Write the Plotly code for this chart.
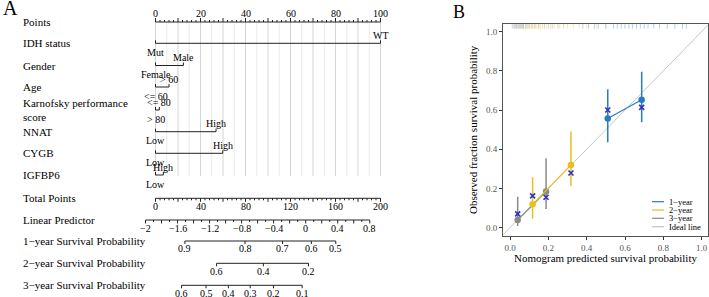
import math
import plotly.graph_objects as go

FONT = "Liberation Serif"
W, H = 709, 297

# ---------------- Panel A : nomogram data ----------------
var_names = ["IDH status", "Gender", "Age", "Karnofsky performance", "NNAT", "CYGB", "IGFBP6"]
var_low_labels = ["Mut", "Female", "<= 60", "> 80", "Low", "Low", "Low"]
var_high_labels = ["WT", "Male", "> 60", "<= 80", "High", "High", "High"]
var_low_points = [0, 0, 0, 0, 0, 0, 0]
var_high_points = [100, 12.4, 6.0, 1.7, 26.9, 29.9, 3.5]

points_labels = [0, 20, 40, 60, 80, 100]
total_points_labels = [0, 40, 80, 120, 160, 200]
lp_labels = [-2, -1.6, -1.2, -0.8, -0.4, 0, 0.4, 0.8]
surv_labels = [
    [0.9, 0.8, 0.7, 0.6, 0.5],
    [0.6, 0.4, 0.2],
    [0.6, 0.5, 0.4, 0.3, 0.2, 0.1],
]
surv_names = ["1\u2212year Survival Probability", "2\u2212year Survival Probability",
              "3\u2212year Survival Probability"]

# model parameters
total_per_point = 2.0          # total-points units per variable point
lp_at_zero_total = 133.5       # total points at linear predictor 0
lp_total_slope = 71.2          # total points per unit of linear predictor
base_cumhaz = [0.476, 1.554, 2.406]   # baseline cumulative hazard at 1, 2, 3 years

# ---------------- Panel B : calibration data ----------------
cal_pred = [[0.510, 0.687], [0.118, 0.318], [0.040, 0.188]]
cal_obs = [[0.557, 0.653], [0.119, 0.320], [0.039, 0.184]]
cal_lo = [[0.436, 0.538], [0.045, 0.213], [0.009, 0.095]]
cal_hi = [[0.706, 0.796], [0.257, 0.490], [0.158, 0.354]]
cal_corr = [[0.600, 0.614], [0.162, 0.279], [0.070, 0.155]]
cal_names = ["1\u2212year", "2\u2212year", "3\u2212year"]
rug_1y = [0.38, 0.41, 0.44, 0.46, 0.50, 0.54, 0.56, 0.58, 0.60, 0.62, 0.64, 0.66,
          0.68, 0.70, 0.72, 0.75, 0.78, 0.82, 0.86, 0.90, 0.92]
rug_2y = [0.07, 0.085, 0.10, 0.11, 0.12, 0.13, 0.14, 0.15, 0.16, 0.17, 0.19, 0.21,
          0.23, 0.26, 0.30, 0.33, 0.36, 0.40, 0.45, 0.50]
rug_3y = [0.012, 0.02, 0.025, 0.03, 0.034, 0.04, 0.045, 0.05, 0.055, 0.06, 0.065,
          0.07, 0.08, 0.09, 0.10, 0.115, 0.13, 0.15, 0.18, 0.20, 0.22, 0.25, 0.28]
rugs = [rug_1y, rug_2y, rug_3y]

# ---------------- styles / layout positions ----------------
cal_colors = ["#2b7bbf", "#e8c01c", "#8a8a8a"]
rug_colors = ["rgba(43,123,191,0.35)", "rgba(232,192,28,0.35)", "rgba(138,138,138,0.35)"]
corr_color = "#3030c8"
ideal_color = "#c4c4c4"
axis_col = "#222222"

row_points_y = 22
row_var_y = [43.3, 65.5, 87, 110, 131.7, 153.3, 175]
row_total_y = 198.3
row_lp_y = 220
row_surv_y = [241, 263.3, 285.3]
grid_bottom_y = 176
label_px = 21

# panel A x axis: pixel = 155.5 + 1.125 * total_points
A_X0, A_SCALE = 155.5, 1.125
A_RIGHT_PX = 430
a_range = [(0 - A_X0) / A_SCALE, (A_RIGHT_PX - A_X0) / A_SCALE]


def lp_to_total(lp):
    return lp_at_zero_total + lp_total_slope * lp


def surv_to_lp(s, h):
    return math.log(-math.log(s) / base_cumhaz[h])


def fmt(v):
    s = ("%g" % v)
    return s.replace("-", "\u2212")


fig = go.Figure()
ann = []
shapes = []

seg_x, seg_y = [], []


def seg(x0, y0, x1, y1, xs=seg_x, ys=seg_y):
    xs += [x0, x1, None]
    ys += [y0, y1, None]


def label(x, y, text, size=10, xanchor="center", color="black"):
    ann.append(dict(x=x, y=y, xref="x", yref="y", text=text, showarrow=False,
                    xanchor=xanchor, yanchor="middle",
                    font=dict(family=FONT, size=size, color=color)))


def row_name(y, text, size=11):
    ann.append(dict(x=label_px / W, y=1 - y / H, xref="paper", yref="paper", text=text,
                    showarrow=False, xanchor="left", yanchor="middle",
                    font=dict(family=FONT, size=size, color="black")))


# grid lines (every 5 points)
gx_dark, gy_dark, gx_light, gy_light = [], [], [], []
for p in range(0, 101, 5):
    t = p * total_per_point
    if p % 10 == 0:
        seg(t, row_points_y, t, grid_bottom_y, gx_dark, gy_dark)
    else:
        seg(t, row_points_y, t, grid_bottom_y, gx_light, gy_light)
fig.add_trace(go.Scatter(x=gx_light, y=gy_light, mode="lines", line=dict(color="#ebebeb", width=1),
                         hoverinfo="skip", showlegend=False))
fig.add_trace(go.Scatter(x=gx_dark, y=gy_dark, mode="lines", line=dict(color="#d4d4d4", width=1),
                         hoverinfo="skip", showlegend=False))

# Points axis (ticks up, labels above)
row_name(row_points_y, "Points")
seg(0, row_points_y, 100 * total_per_point, row_points_y)
for p in range(0, 101, 2):
    t = p * total_per_point
    L = 4 if p % 10 == 0 else 2
    seg(t, row_points_y, t, row_points_y - L)
for p in points_labels:
    label(p * total_per_point, row_points_y - 8.5, fmt(p), size=10)

# variables
for i, name in enumerate(var_names):
    y = row_var_y[i]
    lo, hi = var_low_points[i], var_high_points[i]
    seg(lo * total_per_point, y, hi * total_per_point, y)
    for p in (lo, hi):
        seg(p * total_per_point, y, p * total_per_point, y - 3)
    label(hi * total_per_point, y - 8, var_high_labels[i], size=10)
    label(lo * total_per_point, y + 9, var_low_labels[i], size=10)
    if i == 3:
        row_name(y - 6.7, "Karnofsky performance")
        row_name(y + 6.7, "score")
    else:
        row_name(y, name)

# Total points (ticks down, labels below)
row_name(row_total_y, "Total Points")
seg(0, row_total_y, 200, row_total_y)
for t in range(0, 201, 4):
    L = 3.5 if t % 20 == 0 else 2
    seg(t, row_total_y, t, row_total_y + L)
for t in total_points_labels:
    label(t, row_total_y + 8.5, fmt(t), size=10)

# Linear predictor
row_name(row_lp_y, "Linear Predictor")
seg(lp_to_total(lp_labels[0]), row_lp_y, lp_to_total(lp_labels[-1]), row_lp_y)
for k in range(0, 29):
    lpv = -2 + 0.1 * k
    L = 3.5 if k % 2 == 0 else 2
    seg(lp_to_total(lpv), row_lp_y, lp_to_total(lpv), row_lp_y + L)
for v in lp_labels:
    label(lp_to_total(v), row_lp_y + 8.5, fmt(v), size=10)

# Survival probability axes
for h in range(3):
    y = row_surv_y[h]
    row_name(y, surv_names[h])
    vals = surv_labels[h]
    ts = [lp_to_total(surv_to_lp(s, h)) for s in vals]
    seg(min(ts), y, max(ts), y)
    for t, s in zip(ts, vals):
        seg(t, y, t, y + 3)
        label(t, y + 7.8, fmt(s), size=10)

fig.add_trace(go.Scatter(x=seg_x, y=seg_y, mode="lines", line=dict(color=axis_col, width=1),
                         hoverinfo="skip", showlegend=False))

# ---------------- Panel B traces ----------------
fig.add_trace(go.Scatter(x=[-0.2, 1.2], y=[-0.2, 1.2], mode="lines", xaxis="x2", yaxis="y2",
                         line=dict(color=ideal_color, width=1), hoverinfo="skip", showlegend=False))

for k in range(3):
    rx, ry = [], []
    for v in rugs[k]:
        rx += [v, v, None]
        ry += [1.015, 1.039, None]
    fig.add_trace(go.Scatter(x=rx, y=ry, mode="lines", xaxis="x2", yaxis="y2",
                             line=dict(color=rug_colors[k], width=1), hoverinfo="skip", showlegend=False))

for k in [2, 1, 0]:
    err_plus = [hi - o for hi, o in zip(cal_hi[k], cal_obs[k])]
    err_minus = [o - lo for lo, o in zip(cal_lo[k], cal_obs[k])]
    fig.add_trace(go.Scatter(x=cal_pred[k], y=cal_obs[k], mode="lines+markers", xaxis="x2", yaxis="y2",
                             line=dict(color=cal_colors[k], width=1.2),
                             marker=dict(color=cal_colors[k], size=6.5),
                             error_y=dict(type="data", array=err_plus, arrayminus=err_minus,
                                          color=cal_colors[k], thickness=1.5, width=0),
                             name=cal_names[k], showlegend=False))
for k in range(3):
    fig.add_trace(go.Scatter(x=cal_pred[k], y=cal_corr[k], mode="markers", xaxis="x2", yaxis="y2",
                             marker=dict(symbol="x-thin", size=5, line=dict(color=corr_color, width=1.6)),
                             hoverinfo="skip", showlegend=False))

# manual legend
leg_rows = [201.7, 210, 218.3, 226.7]
leg_cols = cal_colors + [ideal_color]
leg_text = cal_names + ["Ideal line"]
for yy, c, tx in zip(leg_rows, leg_cols, leg_text):
    shapes.append(dict(type="line", xref="paper", yref="paper", x0=652 / W, x1=664 / W,
                       y0=1 - yy / H, y1=1 - yy / H, line=dict(color=c, width=1.2)))
    ann.append(dict(x=667 / W, y=1 - yy / H, xref="paper", yref="paper", text=tx, showarrow=False,
                    xanchor="left", yanchor="middle", font=dict(family=FONT, size=8.5, color="black")))

# titles / panel letters
ann.append(dict(x=10 / W, y=1 - 8 / H, xref="paper", yref="paper", text="A", showarrow=False,
                xanchor="center", yanchor="middle", font=dict(family=FONT, size=20, color="black")))
ann.append(dict(x=459 / W, y=1 - 12 / H, xref="paper", yref="paper", text="B", showarrow=False,
                xanchor="center", yanchor="middle", font=dict(family=FONT, size=18, color="black")))
ann.append(dict(x=605 / W, y=1 - 258 / H, xref="paper", yref="paper",
                text="Nomogram predicted survival probability", showarrow=False,
                xanchor="center", yanchor="middle", font=dict(family=FONT, size=11, color="black")))
ann.append(dict(x=473 / W, y=1 - 130 / H, xref="paper", yref="paper",
                text="Observed fraction survival probability", showarrow=False, textangle=-90,
                xanchor="center", yanchor="middle", font=dict(family=FONT, size=11, color="black")))

bx0, bx1 = 503.3 / W, 708 / W
by0, by1 = 1 - 235.7 / H, 1 - 24 / H

fig.update_layout(
    width=W, height=H, margin=dict(l=0, r=0, t=0, b=0),
    paper_bgcolor="white", plot_bgcolor="white", showlegend=False,
    xaxis=dict(domain=[0, A_RIGHT_PX / W], range=a_range, visible=False, fixedrange=True),
    yaxis=dict(domain=[0, 1], range=[H, 0], visible=False, fixedrange=True),
    xaxis2=dict(domain=[bx0, bx1], range=[-0.035, 1.033], anchor="y2",
                tickvals=[0, 0.2, 0.4, 0.6, 0.8, 1.0], ticktext=["0.0", "0.2", "0.4", "0.6", "0.8", "1.0"],
                ticks="outside", ticklen=3, tickcolor="#333333", showgrid=False, zeroline=False,
                showline=True, mirror=True, linecolor="#555555", linewidth=1.3,
                tickfont=dict(family=FONT, size=9, color="#555555")),
    yaxis2=dict(domain=[by0, by1], range=[-0.041, 1.039], anchor="x2",
                tickvals=[0, 0.2, 0.4, 0.6, 0.8, 1.0], ticktext=["0.0", "0.2", "0.4", "0.6", "0.8", "1.0"],
                ticks="outside", ticklen=3, tickcolor="#333333", showgrid=False, zeroline=False,
                showline=True, mirror=True, linecolor="#555555", linewidth=1.3,
                tickfont=dict(family=FONT, size=9, color="#555555")),
    annotations=ann, shapes=shapes,
)

fig.write_html("out.html", config={"displayModeBar": False},
               post_script="document.body.style.margin='0';document.body.style.padding='0';"
                           "document.body.style.overflow='hidden';")
